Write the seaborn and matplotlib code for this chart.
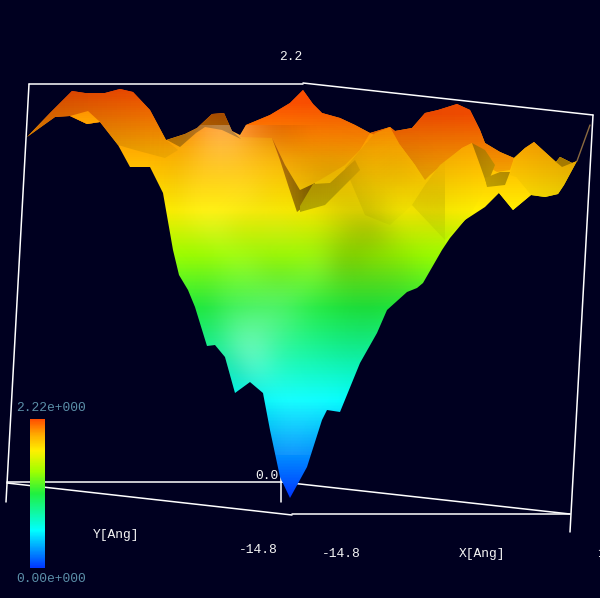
import numpy as np
import matplotlib
matplotlib.use("Agg")
import matplotlib.pyplot as plt
from matplotlib.colors import LinearSegmentedColormap
from matplotlib.patches import Polygon
import seaborn as sns

# surface outline (screen px)
body_x = [27, 50, 72, 85, 105, 120, 133, 150, 166, 185, 197, 212, 224, 232, 240, 246, 270, 290, 303, 313, 322, 340, 355, 370, 390, 395, 412, 425, 438, 457, 470, 480, 485, 500, 514, 525, 534, 545, 556, 560, 572, 577, 564, 558, 545, 531, 513, 499, 485, 465, 450, 442, 423, 417, 407, 387, 377, 360, 340, 327, 322, 307, 290, 280, 270, 263, 250, 235, 225, 215, 207, 195, 188, 179, 173, 163, 150, 130, 118, 100, 87, 70, 55]
body_y = [137, 113, 91, 93, 93, 89, 92, 110, 140, 134, 128, 114, 113, 131, 135, 125, 115, 103, 90, 104, 113, 118, 125, 133, 127, 131, 128, 113, 110, 104, 110, 130, 143, 152, 158, 148, 142, 152, 162, 157, 163, 161, 185, 194, 197, 195, 210, 193, 207, 220, 238, 250, 283, 288, 292, 310, 333, 363, 412, 410, 420, 467, 498, 477, 430, 393, 382, 393, 357, 345, 346, 307, 290, 275, 250, 193, 167, 167, 145, 122, 124, 116, 117]

wing_x = [27, 50, 72, 85, 105, 120, 133, 150, 166, 178, 165, 135, 118, 100, 87, 70, 55]
wing_y = [137, 113, 91, 93, 93, 89, 92, 110, 140, 150, 158, 150, 145, 122, 124, 116, 117]
tile_x = [70, 87, 100, 88]
tile_y = [116, 124, 122, 111]
peak_back_x = [167, 185, 197, 212, 224, 232, 241, 222, 205, 196, 180]
peak_back_y = [140, 134, 128, 114, 113, 131, 139, 130, 127, 133, 147]
hump_x = [240, 246, 270, 290, 303, 313, 322, 340, 355, 370, 360, 345, 320, 300, 285, 272]
hump_y = [137, 125, 115, 103, 90, 104, 113, 118, 125, 133, 150, 165, 180, 190, 165, 138]
wedge_x = [272, 280, 288, 297, 302, 315, 300, 285]
wedge_y = [138, 160, 185, 212, 208, 183, 190, 165]
shelf_x = [300, 313, 330, 355, 360, 345, 325, 300]
shelf_y = [206, 184, 183, 160, 170, 185, 205, 212]
far_right_x = [370, 390, 395, 412, 425, 438, 457, 470, 480, 485, 500, 514, 510, 497, 485, 472, 462, 430, 425, 415, 400]
far_right_y = [133, 127, 131, 128, 113, 110, 104, 110, 130, 143, 152, 158, 170, 172, 165, 143, 148, 175, 180, 165, 145]
peak_one_x = [345, 362, 375, 390, 400, 415, 425, 412, 390, 365]
peak_one_y = [168, 148, 133, 127, 145, 165, 185, 205, 225, 215]
peak_two_x = [425, 440, 462, 472, 485, 487, 470, 445, 412]
peak_two_y = [185, 165, 148, 143, 165, 185, 215, 240, 205]
gap_x = [472, 485, 495, 487, 480]
gap_y = [143, 150, 165, 185, 165]
strip_x = [485, 500, 510, 505, 487]
strip_y = [178, 172, 172, 185, 187]
right_hill_x = [514, 525, 534, 545, 556, 560, 572, 577, 564, 558, 545, 531, 516, 510]
right_hill_y = [158, 148, 142, 152, 162, 157, 163, 161, 185, 194, 197, 195, 177, 175]
notch_x = [556, 560, 572, 562]
notch_y = [162, 157, 163, 167]
yellow_tile_x = [499, 516, 531, 513]
yellow_tile_y = [193, 177, 195, 210]

# light and dark streaks over the body, rows top to bottom
shade_cols = [160, 190, 220, 250, 280, 310, 340, 370, 400, 430]
shade_rows = [140, 170, 200, 230, 260, 290, 320, 350, 380, 410, 440]
shade = np.array([
    [0.0, 0.05, 0.35, 0.15, -0.1, 0.0, 0.0, 0.0, 0.0, 0.0],
    [0.0, 0.10, 0.15, 0.10, 0.05, -0.1, -0.1, 0.0, -0.1, 0.0],
    [0.0, 0.10, 0.05, 0.15, 0.0, -0.05, -0.15, -0.1, 0.0, -0.12],
    [0.0, 0.05, 0.15, 0.0, 0.15, 0.0, -0.12, -0.28, -0.05, -0.05],
    [0.0, 0.0, 0.02, 0.15, 0.0, 0.10, -0.25, -0.12, -0.1, 0.0],
    [0.0, 0.0, 0.10, 0.10, 0.20, 0.10, -0.08, -0.12, -0.1, 0.0],
    [0.0, 0.0, 0.15, 0.30, 0.25, 0.05, -0.05, -0.08, 0.0, 0.0],
    [0.0, 0.0, 0.10, 0.50, 0.10, 0.05, -0.05, -0.05, 0.0, 0.0],
    [0.0, 0.0, 0.0, 0.25, 0.10, 0.05, 0.05, 0.0, 0.0, 0.0],
    [0.0, 0.0, 0.0, 0.0, 0.10, 0.10, 0.05, 0.0, 0.0, 0.0],
    [0.0, 0.0, 0.0, 0.0, 0.10, 0.05, 0.0, 0.0, 0.0, 0.0],
])

# colour scale: screen height of the surface to level
screen_y = [90, 210, 250, 300, 400, 498]
levels = [1.0, 0.79, 0.66, 0.52, 0.25, 0.0]
bar_levels = np.linspace(1, 0, 149).reshape(-1, 1)

scale_stops = [0.0, 0.25, 0.5, 0.65, 0.79, 0.9, 1.0]
scale_colors = ["#0038ff", "#00ffff", "#20f040", "#a0ff00", "#fff000", "#ffaa00", "#ff5000"]

frame_lines = [
    ([29, 303], [84, 84]),
    ([303, 593], [83, 115]),
    ([29, 6], [84, 502]),
    ([593, 570], [115, 532]),
    ([7, 282], [482, 482]),
    ([282, 570], [482, 514]),
    ([7, 292], [483, 515]),
    ([292, 570], [514, 514]),
    ([281, 281], [476, 502]),
]

bg = "#000020"
sns.set_theme(style="dark", rc={"figure.facecolor": bg, "axes.facecolor": bg})
plt.rcParams["font.family"] = ["Liberation Mono", "DejaVu Sans Mono"]

cmap = LinearSegmentedColormap.from_list("height", list(zip(scale_stops, scale_colors)))

fig = plt.figure(figsize=(6, 5.98), dpi=100)
ax = fig.add_axes([0, 0, 1, 1])
ax.set_axis_off()

for xs, ys in frame_lines:
    sns.lineplot(x=xs, y=ys, sort=False, estimator=None, color="white", lw=1.1, ax=ax, zorder=1)


def paint(xs, ys, gain_left=1.0, gain_right=1.0, shift=0.0, z=2):
    # vertical colour ramp cut out by the facet outline, lit from left to right
    rows = np.arange(598) + 0.5
    vals = np.clip(np.interp(rows, screen_y, levels) + shift, 0, 1)
    img = np.repeat(cmap(vals)[:, None, :], 32, axis=1)
    img[:, :, :3] *= np.linspace(gain_left, gain_right, 32)[None, :, None]
    im = ax.imshow(img, extent=(min(xs), max(xs), 598, 0), aspect="auto",
                   interpolation="nearest", zorder=z)
    im.set_clip_path(Polygon(np.column_stack([xs, ys]), transform=ax.transData))


paint(body_x, body_y, z=2)
paint(far_right_x, far_right_y, 0.9, 0.95, shift=0.04, z=3)
paint(wing_x, wing_y, 0.82, 0.95, z=3)
paint(tile_x, tile_y, 1.0, 1.0, shift=-0.04, z=3)
paint(peak_back_x, peak_back_y, 0.72, 0.62, z=3)
paint(hump_x, hump_y, 1.0, 0.95, shift=0.02, z=3)
paint(peak_one_x, peak_one_y, 0.93, 1.0, z=4)
paint(peak_two_x, peak_two_y, 0.93, 1.0, z=4)
paint(wedge_x, wedge_y, 0.75, 0.5, shift=0.05, z=4)
paint(shelf_x, shelf_y, 0.72, 0.85, z=4)
paint(gap_x, gap_y, 0.68, 0.75, z=4)
paint(strip_x, strip_y, 0.75, 0.7, z=4)
paint(right_hill_x, right_hill_y, 0.98, 0.9, z=4)
paint(notch_x, notch_y, 0.65, 0.65, z=5)
paint(yellow_tile_x, yellow_tile_y, 1.0, 1.0, z=5)

# streak layer: white where positive, black where negative
rgba = np.zeros(shade.shape + (4,))
rgba[..., :3] = (shade > 0)[..., None]
rgba[..., 3] = np.abs(shade)
streaks = ax.imshow(rgba, extent=(shade_cols[0] - 15, shade_cols[-1] + 15, shade_rows[-1] + 15, shade_rows[0] - 15),
                    aspect="auto", interpolation="bicubic", zorder=6)
streaks.set_clip_path(Polygon(np.column_stack([body_x, body_y]), transform=ax.transData))

ax.plot([577, 590], [161, 125], color="#8a6a40", lw=1, zorder=2)

white = "#f4f4f4"
steel = "#5b8fa8"
for tx, ty, label, col in [
    (291, 57, "2.2", white), (267, 476, "0.0", white),
    (258, 550, "-14.8", white), (341, 554, "-14.8", white),
    (116, 535, "Y[Ang]", white), (482, 554, "X[Ang]", white),
    (51, 408, "2.22e+000", steel), (51, 579, "0.00e+000", steel),
]:
    ax.text(tx, ty, label, color=col, fontsize=9.4, ha="center", va="center", zorder=8)
ax.text(597, 554, "14.8", color=white, fontsize=9.4, ha="left", va="center", zorder=8)

ax.set_xlim(0, 600)
ax.set_ylim(598, 0)

cax = fig.add_axes([30 / 600, 1 - 568 / 598, 15 / 600, 149 / 598])
sns.heatmap(bar_levels, cmap=cmap, vmin=0, vmax=1, cbar=False,
            xticklabels=False, yticklabels=False, ax=cax)

fig.savefig("out.png", dpi=100, facecolor=bg)
